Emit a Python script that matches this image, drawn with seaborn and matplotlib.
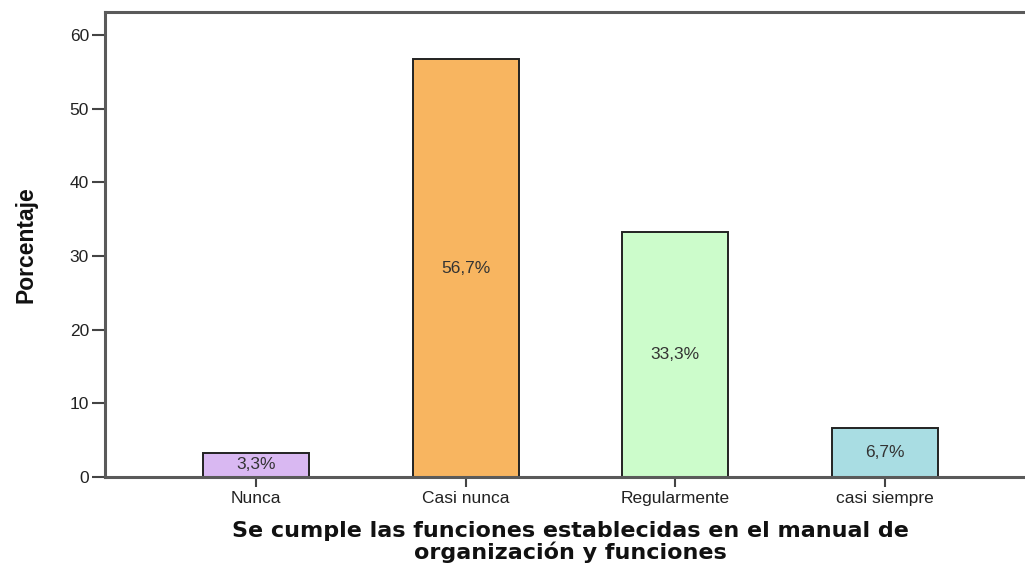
import matplotlib
matplotlib.use("Agg")
import matplotlib.pyplot as plt
import seaborn as sns
import pandas as pd

categories = ["Nunca", "Casi nunca", "Regularmente", "casi siempre"]
values = [3.3, 56.7, 33.3, 6.7]
labels = ["3,3%", "56,7%", "33,3%", "6,7%"]
colors = ["#D9B8F2", "#F8B560", "#CCFCCB", "#A9DDE3"]
yticks = [0, 10, 20, 30, 40, 50, 60]
xlabel = "Se cumple las funciones establecidas en el manual de\norganización y funciones"
ylabel = "Porcentaje"

sns.set_style("white")
plt.rcParams['font.family'] = ['Liberation Sans', 'DejaVu Sans']

df = pd.DataFrame({"cat": categories, "val": values})

fig = plt.figure(figsize=(10.25, 5.67), dpi=100)
W, H = 1025, 567
left, right, top, bottom = 105, 1036, 12, 477
ax = fig.add_axes([left / W, 1 - bottom / H, (right - left) / W, (bottom - top) / H])

sns.barplot(data=df, x="cat", y="val", hue="cat", palette=colors, legend=False,
            width=0.505, edgecolor="#222222", linewidth=1.4, ax=ax, saturation=1)

ax.set_xlim(-0.719, 3.719)
ax.set_ylim(0, 63.1)
ax.set_yticks(yticks)
ax.set_yticklabels([str(t) for t in yticks], fontsize=12.5, color="#222222")
ax.set_xticks(range(len(categories)))
ax.set_xticklabels(categories, fontsize=12.5, color="#222222")
ax.tick_params(axis="y", direction="out", length=9.5, width=1.5, color="#444444", left=True, pad=2)
ax.tick_params(axis="x", direction="out", length=7, width=1.5, color="#444444", bottom=True, pad=3)

for side in ["left", "top", "bottom"]:
    ax.spines[side].set_visible(True)
    ax.spines[side].set_color("#5a5a5a")
    ax.spines[side].set_linewidth(2.2)
ax.spines["right"].set_visible(False)

for i, (v, lab) in enumerate(zip(values, labels)):
    ax.text(i, v / 2, lab, ha="center", va="center", fontsize=12.5, color="#333333")

ax.set_xlabel(xlabel, fontsize=16, fontweight="bold", family=["DejaVu Sans"],
              linespacing=1.0, labelpad=11, color="#111111")
ax.set_ylabel(ylabel, fontsize=16.5, fontweight="bold",
              family=["Liberation Sans Narrow", "Liberation Sans"], labelpad=23, color="#111111")

fig.savefig("out.png", dpi=100)
